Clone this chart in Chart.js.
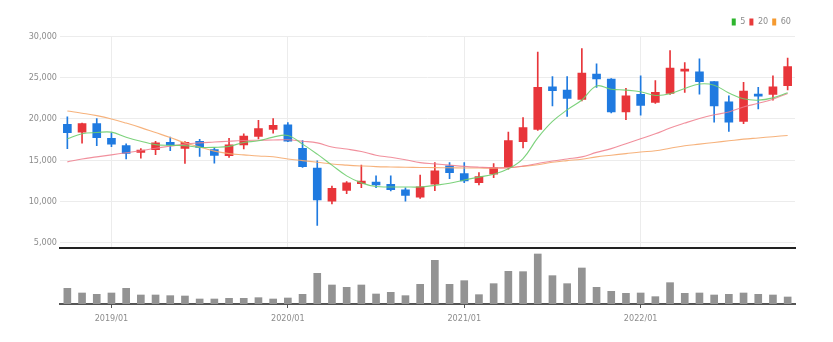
<!DOCTYPE html>
<html>
<head>
<meta charset="utf-8">
<script src="https://cdn.jsdelivr.net/npm/chart.js@4/dist/chart.umd.min.js"></script>
<style>
  html, body { margin: 0; padding: 0; background: #fff; }
  #wrap { position: relative; width: 833px; height: 342px; overflow: hidden; }
  #pricePane { position: absolute; left: 0; top: 0; width: 833px; height: 256px; }
  #volPane { position: absolute; left: 0; top: 246px; width: 833px; height: 96px; }
</style>
</head>
<body>
<div id="wrap">
  <div id="pricePane"><canvas id="price" width="833" height="256"></canvas></div>
  <div id="volPane"><canvas id="vol" width="833" height="96"></canvas></div>
</div>
<script>
// Monthly candles, 2018/10 - 2022/11
const months = [
  '2018/10','2018/11','2018/12',
  '2019/01','2019/02','2019/03','2019/04','2019/05','2019/06','2019/07','2019/08','2019/09','2019/10','2019/11','2019/12',
  '2020/01','2020/02','2020/03','2020/04','2020/05','2020/06','2020/07','2020/08','2020/09','2020/10','2020/11','2020/12',
  '2021/01','2021/02','2021/03','2021/04','2021/05','2021/06','2021/07','2021/08','2021/09','2021/10','2021/11','2021/12',
  '2022/01','2022/02','2022/03','2022/04','2022/05','2022/06','2022/07','2022/08','2022/09','2022/10','2022/11'
];

const opens = [
  19340, 18400, 19430,
  17660, 16770, 15950, 16280, 17170, 16440, 17300, 16280, 15540, 16860, 17870, 18730,
  19300, 16440, 14040, 10030, 11340, 12150, 12360, 12080, 11420, 10520, 12080, 14320,
  13380, 12270, 13300, 14110, 17260, 18730, 23910, 23510, 22370, 25430, 24850, 20850,
  22980, 22000, 23100, 25800, 25710, 24520, 22070, 19710, 23020, 22980, 24030
];
const highs = [
  20250, 19500, 20040,
  18330, 16980, 16400, 17300, 17790, 17260, 17540, 16520, 17660, 18200, 19830, 20040,
  19550, 17380, 14930, 11870, 12400, 14400, 13100, 13100, 11660, 13180, 14720, 14720,
  14720, 13500, 14600, 18400, 20160, 28120, 25140, 25140, 28530, 26690, 24900, 23720,
  25220, 24650, 28290, 26850, 27300, 24520, 22810, 24450, 23840, 25220, 27390
];
const lows = [
  16400, 17050, 16770,
  16650, 15140, 15260, 15670, 16160, 14600, 15460, 14650, 15330, 16370, 17590, 18280,
  17250, 14110, 7100, 9700, 10930, 11660, 11660, 11260, 10030, 10370, 11300, 12760,
  12270, 11990, 12890, 13920, 16490, 18610, 21580, 20320, 22200, 23840, 20720, 19920,
  20450, 21880, 22980, 23230, 23020, 19620, 18490, 19430, 21220, 22280, 23510
];
const closes = [
  18330, 19430, 17720,
  16930, 15830, 16240, 17100, 16850, 17170, 16560, 15580, 16860, 17910, 18820, 19220,
  17300, 14200, 10190, 11590, 12240, 12480, 11990, 11420, 10730, 11780, 13710, 13500,
  12480, 13010, 14110, 17380, 18940, 23840, 23420, 22490, 25550, 24850, 20850, 22810,
  21630, 23230, 26170, 25960, 24520, 21580, 19620, 23390, 22770, 23910, 26360
];

// Trading volume (thousand shares)
const volumes = [
  470, 330, 290,
  330, 470, 270, 270, 250, 240, 150, 150, 170, 170, 190, 150,
  180, 290, 920, 570, 500, 570, 300, 350, 250, 590, 1310, 590,
  700, 280, 610, 980, 970, 1500, 850, 610, 1080, 500, 380, 320,
  330, 220, 640, 320, 330, 270, 290, 330, 290, 270, 210
];

// Moving averages of the close
const ma5 = [
  17590, 18200, 18350,
  18400, 17790, 17300, 16890, 16800, 16770, 16560, 16560, 16680, 17150, 17350, 17800,
  18000, 16950, 15730, 14400, 13100, 12250, 11800, 11750, 11750, 11750, 11950, 12200,
  12600, 12950, 13300, 13950, 15200, 17700, 19700, 21100, 22300, 24000, 23600, 23500,
  23300, 22850, 23050, 23700, 24240, 24100, 23150, 22450, 22280, 22560, 23180
];
const ma20 = [
  14800, 15150, 15400,
  15650, 15900, 16150, 16450, 16700, 16950, 17100, 17200, 17300, 17380, 17420, 17450,
  17470, 17300, 17100, 16600, 16350, 16050, 15600, 15350, 15050, 14700, 14550, 14400,
  14250, 14150, 14080, 14100, 14300, 14600, 14900, 15150, 15400, 15950, 16400, 17000,
  17600, 18200, 18900, 19500, 20050, 20500, 20850, 21450, 21900, 22400, 23100
];
const ma60 = [
  20970, 20700, 20400,
  20000, 19500, 18950, 18350, 17750, 17100, 16600, 16100, 15800, 15650, 15500, 15420,
  15150, 14950, 14750, 14530, 14400, 14300, 14220, 14180, 14150, 14120, 14100, 14080,
  14060, 14050, 14040, 14100, 14250, 14450, 14750, 14950, 15120, 15400, 15600, 15800,
  16000, 16150, 16450, 16750, 16950, 17150, 17350, 17550, 17700, 17850, 18000
];

const priceTicks = [5000, 10000, 15000, 20000, 25000, 30000];

const UP = '#e8353a';
const DOWN = '#1f7ae0';
const FONT = "'Liberation Sans Narrow', 'DejaVu Sans Condensed', 'Roboto', sans-serif";
const AXIS_W = 60;
const RIGHT_PAD = 38;

const candleColor = ctx => closes[ctx.dataIndex] >= opens[ctx.dataIndex] ? UP : DOWN;
const isJan = i => months[i] && months[i].endsWith('/01');
const fmt = new Intl.NumberFormat('en-US');

Chart.defaults.font.family = FONT;

const maLine = (label, data, line, key) => ({
  type: 'line', label, data,
  borderColor: line, backgroundColor: key,
  borderWidth: 1.1, pointRadius: 0, tension: 0.4, order: 0
});

// Price panel: candles + moving averages
new Chart(document.getElementById('price'), {
  type: 'bar',
  data: {
    labels: months,
    datasets: [
      maLine('5', ma5, 'rgba(110,205,110,0.9)', '#2db52d'),
      maLine('20', ma20, 'rgba(238,125,140,0.85)', '#e83a3a'),
      maLine('60', ma60, 'rgba(245,170,110,0.9)', '#f59a30'),
      {
        label: 'range', data: months.map((m, i) => [lows[i], highs[i]]),
        backgroundColor: candleColor, barThickness: 1, grouped: false, order: 2
      },
      {
        label: 'body', data: months.map((m, i) => [opens[i], closes[i]]),
        backgroundColor: candleColor, barThickness: 8, minBarLength: 2, grouped: false, order: 1
      }
    ]
  },
  options: {
    responsive: false,
    animation: false,
    events: [],
    layout: { padding: { top: 13.5, right: RIGHT_PAD, left: 0, bottom: 2 } },
    plugins: {
      tooltip: { enabled: false },
      legend: {
        display: true,
        position: 'top',
        align: 'end',
        labels: {
          boxWidth: 4, boxHeight: 7, padding: 4,
          color: '#8c8c8c',
          font: { family: FONT, size: 9 },
          generateLabels: chart => chart.data.datasets.slice(0, 3).map((ds, i) => ({
            text: ds.label, fillStyle: ds.backgroundColor, strokeStyle: ds.backgroundColor,
            lineWidth: 0, hidden: false, datasetIndex: i, fontColor: '#8c8c8c'
          }))
        }
      }
    },
    scales: {
      x: {
        offset: true,
        grid: {
          offset: false, drawTicks: false,
          color: c => isJan(c.index) ? '#ececec' : 'rgba(0,0,0,0)'
        },
        ticks: { display: false, autoSkip: false },
        border: { display: true, color: '#222', width: 2 },
        afterFit: s => { s.height = 0; }
      },
      y: {
        min: 4400, max: 30000,
        afterBuildTicks: s => { s.ticks = priceTicks.map(v => ({ value: v })); },
        afterFit: s => { s.width = AXIS_W; },
        grid: { color: '#ececec', drawTicks: false },
        border: { display: false },
        ticks: {
          padding: 3, color: '#8c8c8c',
          font: { family: FONT, size: 9 },
          callback: v => fmt.format(v)
        }
      }
    }
  }
});

// Volume panel
new Chart(document.getElementById('vol'), {
  type: 'bar',
  data: {
    labels: months,
    datasets: [{ label: 'volume', data: volumes, backgroundColor: '#939393', barThickness: 7 }]
  },
  options: {
    responsive: false,
    animation: false,
    events: [],
    layout: { padding: { top: 4, right: RIGHT_PAD, left: 0, bottom: 0 } },
    plugins: { legend: { display: false }, tooltip: { enabled: false } },
    scales: {
      x: {
        offset: true,
        grid: {
          offset: false, drawOnChartArea: false, drawTicks: true, tickLength: 4,
          tickColor: c => isJan(c.index) ? '#555' : 'rgba(0,0,0,0)'
        },
        border: { display: true, color: '#555', width: 2 },
        ticks: {
          autoSkip: false, maxRotation: 0, minRotation: 0, padding: 5,
          color: '#8c8c8c', font: { family: FONT, size: 9 },
          callback: (v, i) => isJan(i) ? months[i] : ''
        },
        afterFit: s => { s.height = 38; }
      },
      y: {
        min: 0, max: 1620,
        grid: { display: false },
        border: { display: false },
        ticks: { display: false },
        afterFit: s => { s.width = AXIS_W; }
      }
    }
  }
});
</script>
</body>
</html>
